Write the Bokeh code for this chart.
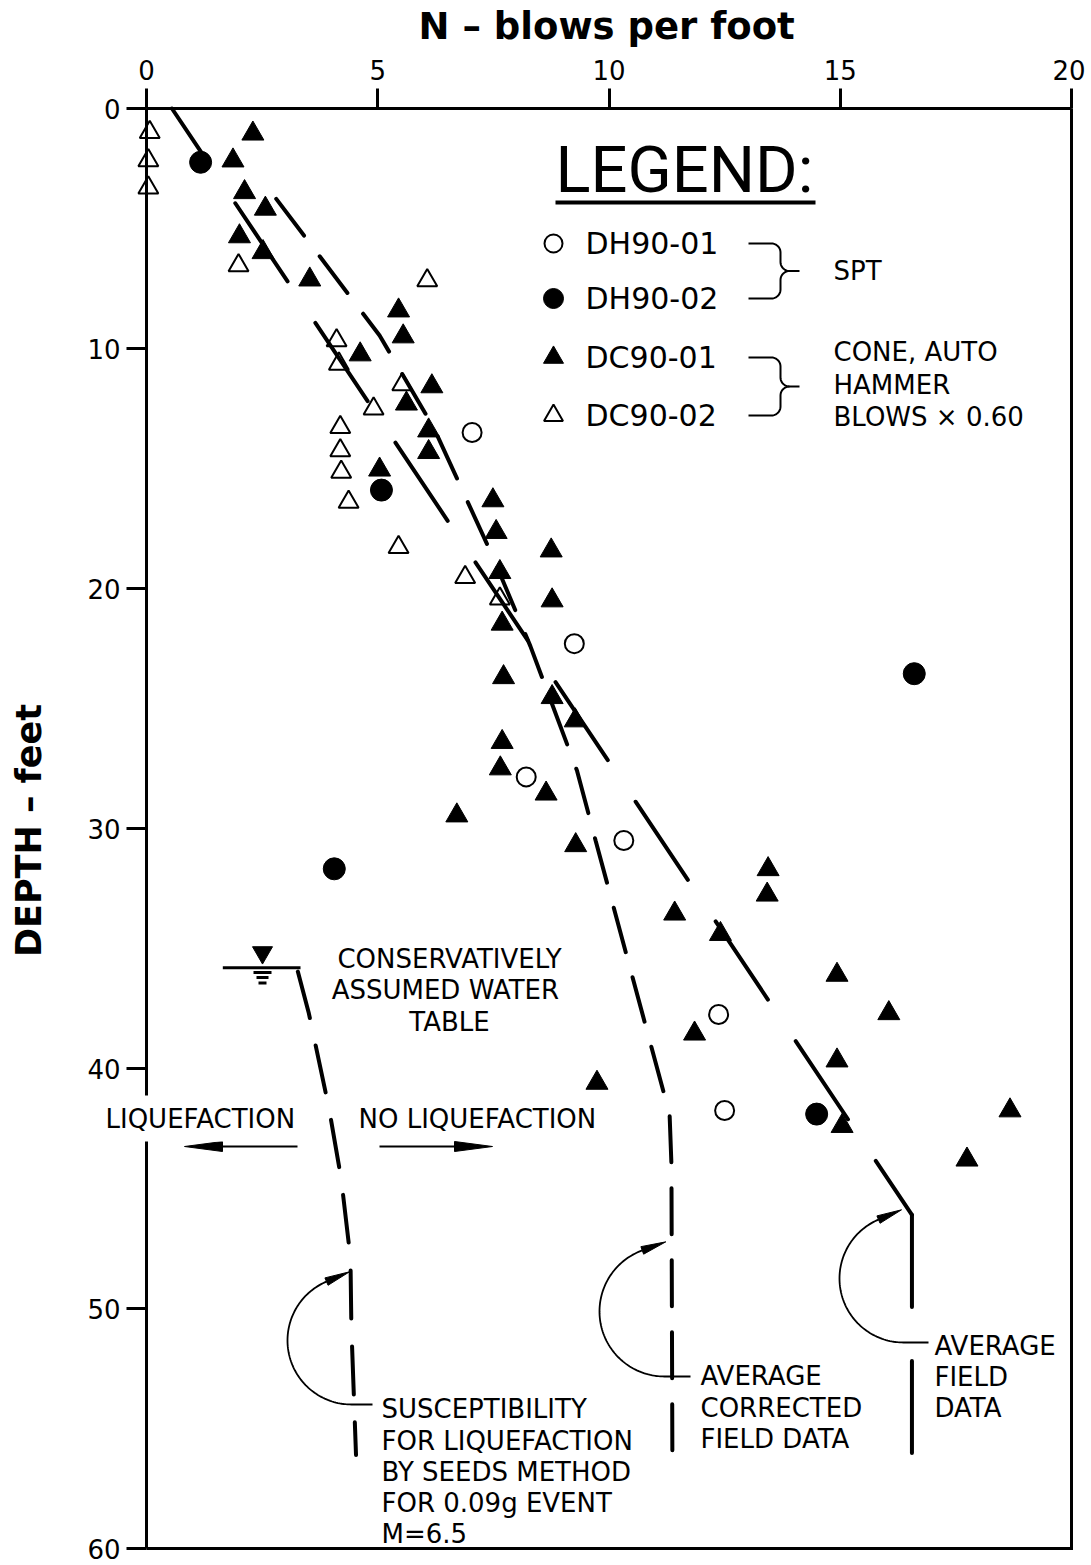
import numpy as np
from bokeh.plotting import figure
from bokeh.models import Range1d, FixedTicker, Label
from bokeh.core.properties import value
from bokeh.embed import file_html
from bokeh.resources import INLINE

# ---------------- data ----------------
# SPT borings: N (blows per foot) vs depth (feet)
dh9001_n = [7.04, 9.25, 8.21, 10.32, 12.37, 12.50]
dh9001_depth = [13.5, 22.3, 27.85, 30.5, 37.75, 41.75]

dh9002_n = [1.17, 5.08, 4.06, 16.60, 14.49]
dh9002_depth = [2.24, 15.9, 31.68, 23.55, 41.9]

# cone soundings (auto hammer, blows x 0.60)
dc9001_n = [2.30, 1.87, 2.12, 2.57, 2.01, 2.52, 3.53, 5.45, 5.55, 4.62,
            6.17, 5.62, 6.10, 6.10, 5.04, 7.49, 7.56, 8.75, 7.64, 8.77,
            7.69, 7.72, 8.77, 9.27, 7.69, 7.65, 8.64, 6.71, 9.28, 13.44,
            13.42, 11.42, 12.41, 14.93, 16.05, 11.85, 14.93, 9.74, 18.67, 15.04,
            17.74]
dc9001_depth = [1.05, 2.17, 3.49, 4.18, 5.33, 5.99, 7.13, 8.42, 9.5, 10.25,
                11.58, 12.3, 13.42, 14.32, 15.05, 16.33, 17.65, 18.42, 19.32, 20.5,
                21.47, 23.7, 24.53, 25.5, 26.4, 27.5, 28.55, 29.46, 30.7, 31.7,
                32.76, 33.55, 34.4, 36.1, 37.7, 38.55, 39.67, 40.6, 41.75, 42.4,
                43.8]

dc9002_n = [0.07, 0.04, 0.04, 1.99, 6.07, 4.11, 4.16, 5.53, 4.91, 4.19,
            4.19, 4.21, 4.37, 5.45, 6.89, 7.64]
dc9002_depth = [0.99, 2.17, 3.3, 6.54, 7.17, 9.67, 10.64, 11.5, 12.51, 13.28,
                14.25, 15.15, 16.4, 18.28, 19.53, 20.43]

# interpreted curves
field_n = [0.55, 16.55, 16.55]
field_depth = [0.0, 46.1, 56.1]

corrected_n = [2.74, 5.04, 6.21, 7.47, 8.30, 9.31, 9.71, 10.93, 11.31, 11.35, 11.37]
corrected_depth = [3.6, 9.46, 13.3, 18.6, 22.4, 27.6, 30.5, 39.2, 41.9, 44.0, 56.0]

seeds_n = [3.25, 3.51, 3.95, 4.21, 4.41, 4.43, 4.53]
seeds_depth = [35.8, 37.7, 41.7, 44.6, 47.9, 50.8, 56.1]

water_table_depth = 35.8
water_table_n = [1.65, 3.33]

x_ticks = [0, 5, 10, 15, 20]
y_ticks = [0, 10, 20, 30, 40, 50, 60]
x_lim = (0, 20)
y_lim = (0, 60)
x_title = "N – blows per foot"
y_title = "DEPTH – feet"

# ---------------- layout helpers (page pixels -> data units) ----------------
W, H = 1085, 1564           # figure size
FL, FT = 146.0, 108.0       # where N=0 / depth=0 sit on the page
SX, SY = 46.25, 24.0        # pixels per unit


def X(px):
    return (np.asarray(px, dtype=float) - FL) / SX


def Y(py):
    return (np.asarray(py, dtype=float) - FT) / SY


FONT = "DejaVu Sans"

p = figure(width=W, height=H,
           x_range=Range1d(-FL / SX, (W - FL) / SX),
           y_range=Range1d((H - FT) / SY, -FT / SY),
           x_axis_location="above", output_backend="svg",
           toolbar_location=None,
           min_border_left=0, min_border_right=0,
           min_border_top=0, min_border_bottom=0)
p.grid.visible = False
p.outline_line_color = None
p.background_fill_color = "white"
p.border_fill_color = "white"

for ax, ticks, bnds in [(p.xaxis[0], x_ticks, x_lim),
                        (p.yaxis[0], y_ticks, y_lim)]:
    ax.ticker = FixedTicker(ticks=ticks)
    ax.bounds = bnds
    ax.fixed_location = 0
    ax.major_label_text_font = FONT
    ax.major_label_text_font_size = "26px"
    ax.major_label_text_color = "black"
    ax.major_tick_out = 20
    ax.major_tick_in = 0
    ax.minor_tick_out = 0
    ax.minor_tick_in = 0
    ax.major_tick_line_width = 3
    ax.major_tick_line_color = "black"
    ax.axis_line_width = 3
    ax.axis_line_color = "black"
p.xaxis.major_label_standoff = 9
p.yaxis.major_label_standoff = 6

# axis titles
p.text(x=[float(np.mean(x_lim)) - 0.05], y=[Y(26)], text=[x_title],
       text_font=value(FONT), text_font_style="bold",
       text_font_size=value("37px"), text_align="center",
       text_baseline="middle", text_color="black")
p.text(x=[X(28)], y=[Y(830)], text=[y_title], angle=np.pi / 2,
       text_font=value(FONT), text_font_style="bold",
       text_font_size=value("35px"), text_align="center",
       text_baseline="middle", text_color="black")

# right and bottom sides of the plot box
p.line([x_lim[0], x_lim[1], x_lim[1]], [y_lim[1], y_lim[1], y_lim[0]],
       line_width=3, color="black", line_join="miter")

# ---------------- interpreted curves ----------------
p.line(field_n[:2], field_depth[:2], line_width=4, color="black",
       line_dash="94 50", line_dash_offset=30, line_cap="round")
p.line(field_n[1:], field_depth[1:], line_width=4, color="black",
       line_dash="92 54", line_dash_offset=0, line_cap="round")
p.line(corrected_n, corrected_depth, line_width=4, color="black",
       line_dash="46 26", line_dash_offset=67, line_cap="round")
p.line(seeds_n, seeds_depth, line_width=4, color="black",
       line_dash="48 28", line_dash_offset=72, line_cap="round")

# water table
p.line(water_table_n, [water_table_depth] * 2, line_width=3, color="black")
p.scatter([X(262)], [Y(952)], marker="inverted_triangle", size=20,
          color="black")
p.segment(x0=X([253, 256, 258]), y0=Y([972, 977, 982.5]),
          x1=X([271, 268, 266]), y1=Y([972, 977, 982.5]),
          line_width=3, color="black")

# ---------------- data points ----------------
p.scatter(dh9001_n, dh9001_depth, marker="circle", size=19,
          fill_color=None, line_color="black", line_width=2)
p.scatter(dh9002_n, dh9002_depth, marker="circle", size=22,
          fill_color="black", line_color="black")
p.scatter(dc9001_n, dc9001_depth, marker="triangle", size=22,
          fill_color="black", line_color="black")
p.scatter(dc9002_n, dc9002_depth, marker="triangle", size=20,
          fill_color=None, line_color="black", line_width=2)

# ---------------- curved pointer arrows ----------------


def curved_arrow(cx, cy, r, th_base, tail_x, head_len=25.0, head_w=4.0):
    th = np.radians(np.linspace(270, th_base, 90))
    xs = np.concatenate([[tail_x], cx + r * np.cos(th)])
    ys = np.concatenate([[cy + r], cy - r * np.sin(th)])
    p.line(X(xs), Y(ys), line_width=1.8, color="black")
    t = np.radians(th_base)
    bx, by = cx + r * np.cos(t), cy - r * np.sin(t)
    ux, uy = np.sin(t), np.cos(t)
    tx, ty = bx + head_len * ux, by + head_len * uy
    nx, ny = -uy, ux
    p.patch(X([tx, bx + head_w * nx, bx - head_w * nx]),
            Y([ty, by + head_w * ny, by - head_w * ny]),
            color="black")


curved_arrow(351, 1340, 64, 113, 372)
curved_arrow(664, 1311, 65, 110, 690)
curved_arrow(903, 1278, 64, 113, 928)

# straight arrows: liquefaction / no liquefaction


def straight_arrow(x_from, x_base, x_tip, y, head_w=5.0):
    p.line(X([x_from, x_base]), Y([y, y]), line_width=2, color="black")
    p.patch(X([x_tip, x_base, x_base]), Y([y, y - head_w, y + head_w]),
            color="black")


straight_arrow(297, 222, 184, 1146)
straight_arrow(379, 454, 492, 1146)

# ---------------- legend ----------------
p.text(x=X([555]), y=Y([169]), text=["LEGEND:"],
       text_font=value("Roboto"), text_font_size=value("65px"),
       text_align="left", text_baseline="middle", text_color="black")
p.line(X([555, 815]), Y([202, 202]), line_width=4, color="black")

leg_y = [243, 298, 357, 415]
p.scatter(X([553]), Y([leg_y[0]]), marker="circle", size=18,
          fill_color=None, line_color="black", line_width=2)
p.scatter(X([553]), Y([leg_y[1]]), marker="circle", size=20,
          fill_color="black", line_color="black")
p.scatter(X([553]), Y([leg_y[2]]), marker="triangle", size=20,
          fill_color="black", line_color="black")
p.scatter(X([553]), Y([leg_y[3]]), marker="triangle", size=19,
          fill_color=None, line_color="black", line_width=2)
p.text(x=X([585] * 4), y=Y(leg_y),
       text=["DH90-01", "DH90-02", "DC90-01", "DC90-02"],
       text_font=value(FONT), text_font_size=value("30px"),
       text_align="left", text_baseline="middle", text_color="black")


def brace(yt, yb, x0=748.0, x1=780.0, xt=799.0, r=9.0):
    ym = (yt + yb) / 2.0

    def q(cx, cy, a0, a1):
        a = np.radians(np.linspace(a0, a1, 12))
        return cx + r * np.cos(a), cy - r * np.sin(a)

    ax1, ay1 = q(x1 - r, yt + r, 90, 0)
    ax2, ay2 = q(x1 + r, ym - r, 180, 270)
    xs = np.concatenate([[x0], ax1, ax2, [xt]])
    ys = np.concatenate([[yt], ay1, ay2, [ym]])
    p.line(X(xs), Y(ys), line_width=2, color="black")
    bx1, by1 = q(x1 - r, yb - r, 270, 360)
    bx2, by2 = q(x1 + r, ym + r, 180, 90)
    xs = np.concatenate([[x0], bx1, bx2])
    ys = np.concatenate([[yb], by1, by2])
    p.line(X(xs), Y(ys), line_width=2, color="black")


brace(leg_y[0], leg_y[1])
brace(leg_y[2], leg_y[3])

TXT = dict(text_font=value(FONT), text_font_size=value("26px"),
           text_baseline="middle", text_color="black")

p.text(x=X([833] * 4), y=Y([270, 351, 384, 416]),
       text=["SPT", "CONE,  AUTO", "HAMMER", "BLOWS × 0.60"],
       text_align="left", **TXT)

# water table note
p.text(x=X([449] * 3), y=Y([958, 989, 1021]),
       text=["CONSERVATIVELY", "ASSUMED  WATER", "TABLE"],
       text_align="center", **TXT)

# liquefaction labels (white box interrupts the depth axis line)
p.add_layout(Label(x=float(X(97)), y=float(Y(1118)), text="LIQUEFACTION",
                   text_font=FONT, text_font_size="26px",
                   text_baseline="middle", text_align="left",
                   text_color="black", background_fill_color="white",
                   background_fill_alpha=1.0, padding=8))
p.text(x=X([358]), y=Y([1118]), text=["NO  LIQUEFACTION"],
       text_align="left", **TXT)

# curve notes
p.text(x=X([381] * 5), y=Y([1408, 1440, 1471, 1502, 1533]),
       text=["SUSCEPTIBILITY", "FOR  LIQUEFACTION", "BY  SEEDS  METHOD",
             "FOR  0.09g  EVENT", "M=6.5"],
       text_align="left", **TXT)
p.text(x=X([700] * 3), y=Y([1375, 1407, 1438]),
       text=["AVERAGE", "CORRECTED", "FIELD  DATA"],
       text_align="left", **TXT)
p.text(x=X([934] * 3), y=Y([1345, 1376, 1407]),
       text=["AVERAGE", "FIELD", "DATA"],
       text_align="left", **TXT)

open("out.html", "w").write(file_html(p, INLINE))
